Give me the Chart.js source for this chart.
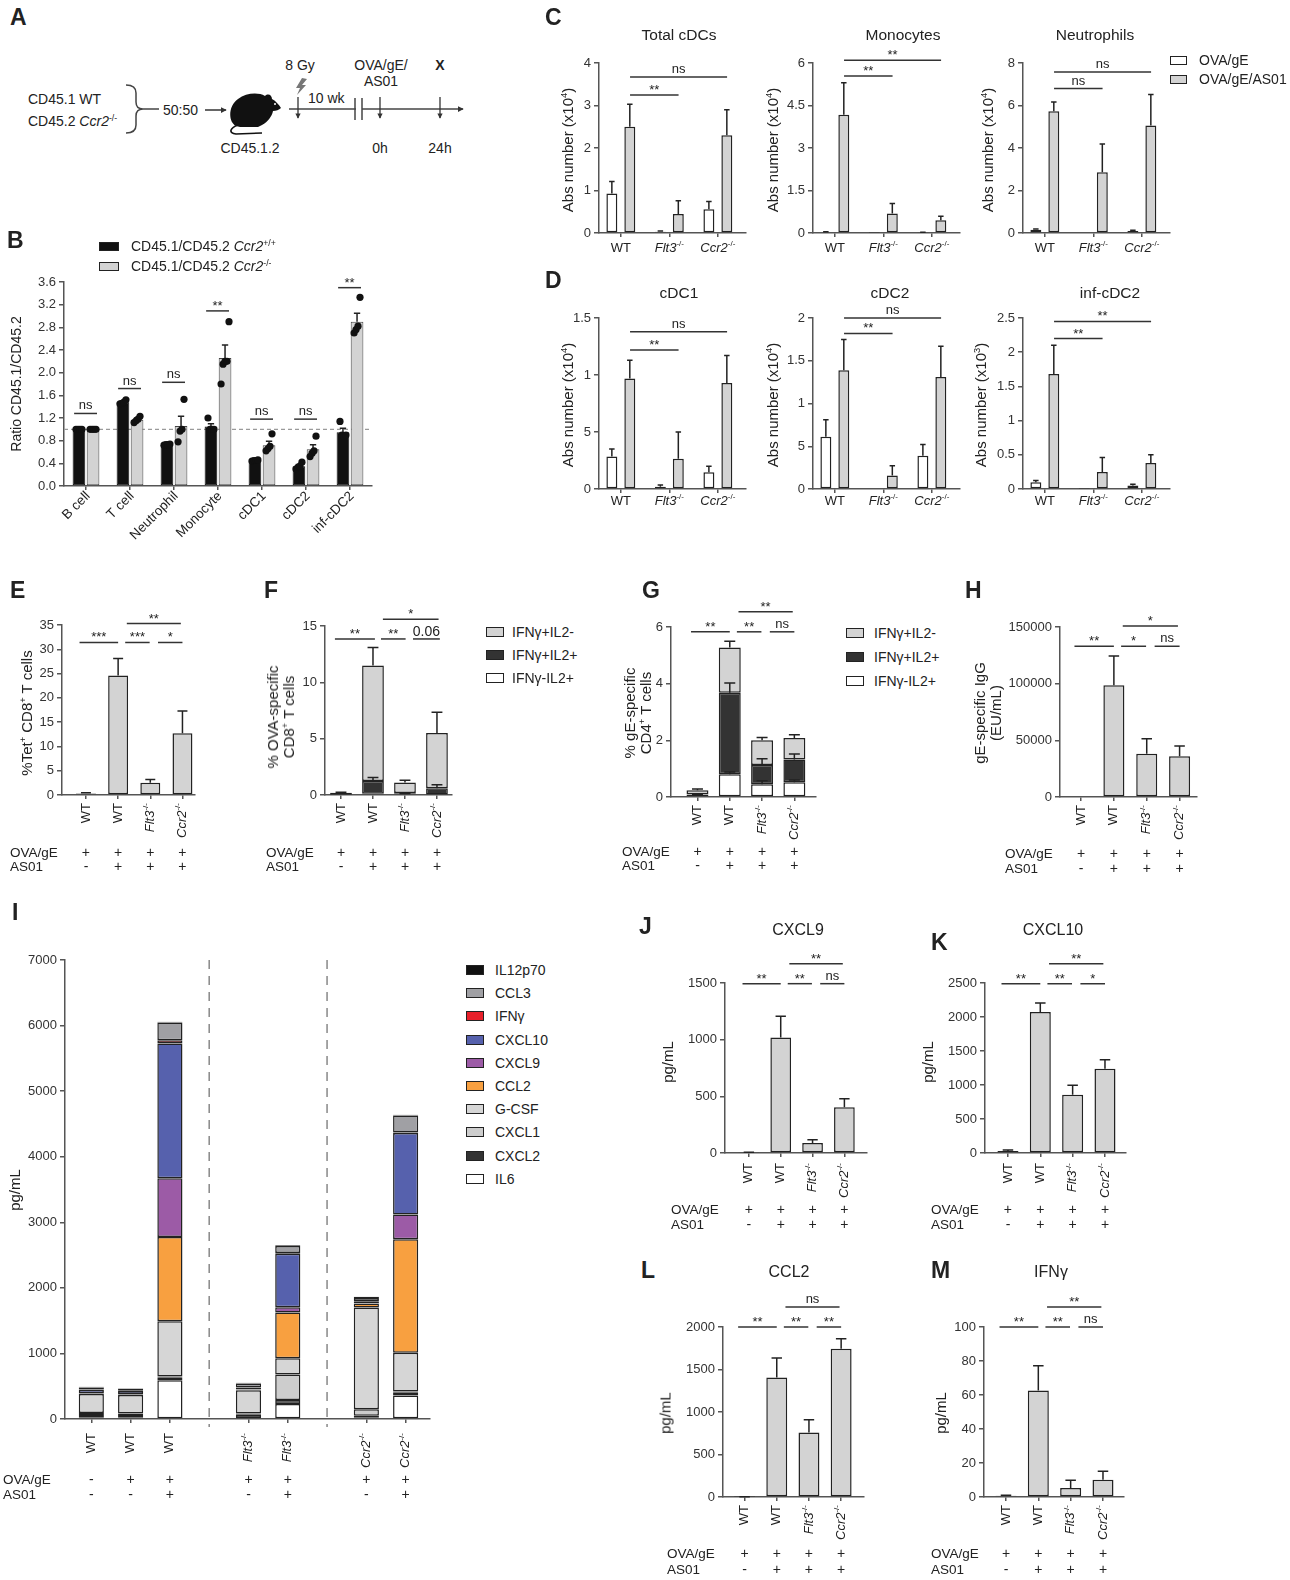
<!DOCTYPE html>
<html>
<head>
<meta charset="utf-8">
<title>Figure</title>
<script src="https://cdn.jsdelivr.net/npm/chart.js@4.4.1/dist/chart.umd.min.js"></script>
<style>
  html, body { margin: 0; padding: 0; background: #fff; }
  body { position: relative; width: 1290px; height: 1580px; overflow: hidden; font-family: "Liberation Sans", Arial, Helvetica, sans-serif; color: #222; }
  canvas { position: absolute; }
  .tx { position: absolute; white-space: nowrap; line-height: 1; z-index: 2; }
  .tx sup { font-size: 0.62em; position: relative; top: -0.6em; vertical-align: baseline; line-height: 0; }
  .two { line-height: 16px; text-align: center; }
  .box { position: absolute; box-sizing: border-box; border: 1.5px solid #222; z-index: 2; }
  .let { font-weight: bold; }
</style>
</head>
<body>
<svg width="480" height="170" style="position:absolute;left:0;top:0" xmlns="http://www.w3.org/2000/svg">
  <defs>
    <marker id="ah" markerWidth="4" markerHeight="4" refX="3.5" refY="2" orient="auto"><path d="M0,0 L4,2 L0,4 Z" fill="#333"/></marker>
  </defs>
  <path d="M126,85 Q136,85 136,93 L136,102 Q136,109 143,109 Q136,109 136,116 L136,125 Q136,133 126,133" fill="none" stroke="#444" stroke-width="1.5"/>
  <line x1="143" y1="109" x2="159" y2="109" stroke="#444" stroke-width="1.5"/>
  <line x1="205" y1="110" x2="226" y2="110" stroke="#333" stroke-width="1.5" marker-end="url(#ah)"/>
  <path d="M236,126 C228,122 228,106 238,99 C246,93 258,92 265,96 C268,93 272,95 272,99 C276,101 279,105 281,108 C279,110 276,111 273,111 C272,116 268,122 262,125 L258,127 L240,127 Z" fill="#111"/>
  <path d="M238,125 C230,128 228,133 236,134 L262,133" fill="none" stroke="#111" stroke-width="1.6"/>
  <circle cx="275" cy="104" r="1" fill="#fff"/>
  <line x1="289" y1="109" x2="463" y2="109" stroke="#444" stroke-width="1.5" marker-end="url(#ah)"/>
  <rect x="356" y="104" width="6" height="10" fill="#fff"/>
  <line x1="355" y1="98" x2="355" y2="120" stroke="#444" stroke-width="1.5"/>
  <line x1="362" y1="98" x2="362" y2="120" stroke="#444" stroke-width="1.5"/>
  <line x1="298" y1="97" x2="298" y2="118" stroke="#333" stroke-width="1.3" marker-end="url(#ah)"/>
  <line x1="380" y1="97" x2="380" y2="118" stroke="#333" stroke-width="1.3" marker-end="url(#ah)"/>
  <line x1="440" y1="97" x2="440" y2="118" stroke="#333" stroke-width="1.3" marker-end="url(#ah)"/>
  <polygon points="302,78 307,79 302,85 306,85 297,95 300,88 296,88" fill="#777"/>
</svg>
<script>
// ---------- Data ----------
// B: chimera ratio
const cellsB = ['B cell', 'T cell', 'Neutrophil', 'Monocyte', 'cDC1', 'cDC2', 'inf-cDC2'];
const wtRatioB = [1.0, 1.48, 0.73, 1.05, 0.45, 0.35, 0.95];
const wtRatioErrB = [0, 0.02, 0.01, 0.05, 0.01, 0.03, 0.07];
const koRatioB = [1.0, 1.17, 1.06, 2.26, 0.72, 0.65, 2.9];
const koRatioErrB = [0, 0.03, 0.17, 0.23, 0.07, 0.08, 0.15];
const wtDotsB = [[1, 1, 1, 1], [1.45, 1.46, 1.48, 1.52], [0.72, 0.73, 0.73, 0.74], [1.2, 1.0, 1.0, 1.0], [0.44, 0.45, 0.45, 0.46], [0.3, 0.33, 0.35, 0.42], [1.14, 0.9, 0.88, 0.9]];
const koDotsB = [[1, 1, 1, 1], [1.12, 1.15, 1.18, 1.23], [0.78, 0.97, 1.0, 1.53], [1.8, 2.15, 2.2, 2.2, 2.9], [0.62, 0.66, 0.7, 0.92], [0.52, 0.58, 0.62, 0.88], [2.7, 2.76, 2.82, 3.33]];
const ticksB = [0, 0.4, 0.8, 1.2, 1.6, 2.0, 2.4, 2.8, 3.2, 3.6];
const sigB = ['ns', 'ns', 'ns', '**', 'ns', 'ns', '**'];
const sigLevelB = [1.28, 1.72, 1.83, 3.09, 1.18, 1.18, 3.5];

// C / D: absolute numbers
const groupsCD = ['WT', '_Flt3_^-/-^', '_Ccr2_^-/-^'];
const cdcNoAdj = [0.93, 0.03, 0.56], cdcNoAdjErr = [0.28, 0.02, 0.18];
const cdcAs01 = [2.5, 0.45, 2.3], cdcAs01Err = [0.53, 0.31, 0.6];
const monoNoAdj = [0.03, 0.01, 0.02], monoNoAdjErr = [0.01, 0, 0.01];
const monoAs01 = [4.17, 0.69, 0.45], monoAs01Err = [1.13, 0.35, 0.14];
const neutNoAdj = [0.15, 0.03, 0.1], neutNoAdjErr = [0.04, 0, 0.03];
const neutAs01 = [5.73, 2.86, 5.06], neutAs01Err = [0.44, 1.33, 1.46];
const cdc1NoAdj = [0.285, 0.02, 0.147], cdc1NoAdjErr = [0.065, 0.015, 0.053];
const cdc1As01 = [0.97, 0.265, 0.93], cdc1As01Err = [0.16, 0.235, 0.24];
const cdc2NoAdj = [0.61, 0.01, 0.39], cdc2NoAdjErr = [0.2, 0, 0.13];
const cdc2As01 = [1.39, 0.157, 1.31], cdc2As01Err = [0.36, 0.115, 0.36];
const infNoAdj = [0.1, 0.005, 0.05], infNoAdjErr = [0.025, 0, 0.02];
const infAs01 = [1.68, 0.25, 0.38], infAs01Err = [0.42, 0.21, 0.12];
const ticksC1 = [0, 1, 2, 3, 4], ticksC2 = [0, 1.5, 3, 4.5, 6], ticksC3 = [0, 2, 4, 6, 8];
const ticksD1 = [0, 0.5, 1, 1.5], tickTextD1 = ['0', '5', '1', '1.5'];
const ticksD2 = [0, 0.5, 1, 1.5, 2], tickTextD2 = ['0', '5', '1', '1.5', '2'];
const ticksD3 = [0, 0.5, 1, 1.5, 2, 2.5];

// E - H, J - M: four groups
const groupsEM = ['WT', 'WT', '_Flt3_^-/-^', '_Ccr2_^-/-^'];
const ovaRow = ['+', '+', '+', '+'];
const as01Row = ['-', '+', '+', '+'];
const tetE = [0.3, 24.6, 2.5, 12.7], tetErrE = [0.15, 3.5, 0.7, 4.6];
const ticksE = [0, 5, 10, 15, 20, 25, 30, 35];
const f_negPos = [0.03, 0.1, 0.12, 0.05], f_negPosErr = [0, 0, 0.02, 0];
const f_posPos = [0.02, 1.15, 0.05, 0.55], f_posPosErr = [0, 0.3, 0.02, 0.3];
const f_posNeg = [0.15, 10.25, 0.93, 4.9], f_posNegErr = [0.05, 1.6, 0.2, 1.85];
const ticksF = [0, 5, 10, 15];
const g_negPos = [0.08, 0.8, 0.45, 0.52], g_negPosErr = [0.02, 0.08, 0.12, 0.08];
const g_posPos = [0.02, 2.88, 0.68, 0.8], g_posPosErr = [0, 0.34, 0.22, 0.2];
const g_posNeg = [0.14, 1.6, 0.87, 0.76], g_posNegErr = [0.04, 0.22, 0.1, 0.12];
const ticksG = [0, 2, 4, 6];
const igG = [0, 98500, 38200, 35900], igGErr = [0, 26000, 13300, 9100];
const ticksH = [0, 50000, 100000, 150000];
const cxcl9J = [5, 1020, 88, 404], cxcl9ErrJ = [2, 187, 29, 74];
const ticksJ = [0, 500, 1000, 1500];
const cxcl10K = [30, 2073, 857, 1240], cxcl10ErrK = [15, 132, 138, 132];
const ticksK = [0, 500, 1000, 1500, 2000, 2500];
const ccl2L = [3, 1407, 760, 1744], ccl2ErrL = [1, 228, 150, 118];
const ticksL = [0, 500, 1000, 1500, 2000];
const ifngM = [0.8, 62.7, 5.3, 10.2], ifngErrM = [0.2, 14.5, 4.5, 4.9];
const ticksM = [0, 20, 40, 60, 80, 100];

// I: cytokine stack (bottom to top)
const groupsI = ['WT', 'WT', 'WT', '_Flt3_^-/-^', '_Flt3_^-/-^', '_Ccr2_^-/-^', '_Ccr2_^-/-^'];
const slotsI = [0, 1, 2, 4, 5, 7, 8];
const ovaRowI = ['-', '+', '+', '+', '+', '+', '+'];
const as01RowI = ['-', '-', '+', '-', '+', '-', '+'];
const il6    = [20, 20, 590, 15, 230, 20, 360];
const cxcl2  = [40, 40, 40, 50, 60, 30, 40];
const cxcl1  = [30, 25, 20, 20, 390, 100, 20];
const gcsf   = [290, 280, 840, 355, 245, 1550, 590];
const ccl2   = [10, 10, 1285, 5, 700, 60, 1730];
const cxcl9  = [5, 5, 895, 5, 80, 5, 380];
const cxcl10 = [55, 50, 2055, 30, 815, 30, 1240];
const ifng   = [1, 1, 50, 1, 10, 1, 10];
const ccl3   = [30, 25, 270, 60, 110, 50, 260];
const il12   = [10, 10, 15, 10, 10, 20, 10];
const ticksI = [0, 1000, 2000, 3000, 4000, 5000, 6000, 7000];

// ---------- Helpers ----------
const FONT = '"Liberation Sans", Arial, Helvetica, sans-serif';
const AXIS = '#555';
const INK = '#222';
const LIGHT = '#d3d3d3';
const DARK = '#333';

// "_x_" italic, "^x^" superscript
function parseRich(s) {
  const parts = [];
  let it = false, sup = false, buf = '';
  for (const ch of s) {
    if (ch === '_' || ch === '^') {
      if (buf) parts.push({ t: buf, it, sup });
      buf = '';
      if (ch === '_') it = !it; else sup = !sup;
    } else buf += ch;
  }
  if (buf) parts.push({ t: buf, it, sup });
  return parts;
}

function drawRich(ctx, str, x, y, size, align, rot) {
  const parts = parseRich(str);
  const fontOf = p => `${p.it ? 'italic ' : ''}${p.sup ? Math.round(size * 0.62) : size}px ${FONT}`;
  let w = 0;
  parts.forEach(p => { ctx.font = fontOf(p); p.w = ctx.measureText(p.t).width; w += p.w; });
  ctx.save();
  ctx.translate(x, y);
  if (rot) ctx.rotate(rot);
  ctx.textBaseline = 'middle';
  ctx.textAlign = 'left';
  let cx = align === 'right' ? -w : align === 'left' ? 0 : -w / 2;
  parts.forEach(p => {
    ctx.font = fontOf(p);
    ctx.fillText(p.t, cx, p.sup ? -size * 0.33 : 0);
    cx += p.w;
  });
  ctx.restore();
}

function addChart(cfg) {
  const [x0, y0, x1, y1] = cfg.box;
  const yW = 56, padL = 6, padR = cfg.padR || 14, padT = cfg.padT || 64, padB = cfg.padB || 96, xH = 6;
  const left = x0 - yW - padL, top = y0 - padT;
  const W = Math.round(x1 - left + padR), H = Math.round(y1 - top + xH + padB);
  const cv = document.createElement('canvas');
  cv.width = W; cv.height = H;
  cv.style.left = left + 'px'; cv.style.top = top + 'px';
  cv.style.width = W + 'px'; cv.style.height = H + 'px';
  document.body.appendChild(cv);

  const datasets = cfg.series.map(s => ({
    type: 'bar',
    label: s.name,
    data: s.values.map((v, i) => ({ x: cfg.xs[i], y: v })),
    backgroundColor: s.color,
    borderColor: s.line || INK,
    borderWidth: s.bw ?? 1.5,
    borderSkipped: false,
    categoryPercentage: cfg.catPct ?? 1,
    barPercentage: cfg.barPct ?? 0.65,
    order: 2,
    errs: s.errs
  }));
  (cfg.dots || []).forEach(pts => datasets.push({
    type: 'scatter', data: pts, pointRadius: 3.6, pointBackgroundColor: '#111',
    pointBorderWidth: 0, order: 1
  }));

  const fig = {
    id: 'fig',
    beforeDatasetsDraw(chart) {
      const { ctx, chartArea: a, scales: { x, y } } = chart;
      ctx.save();
      if (cfg.refLine != null) {
        ctx.strokeStyle = '#9a9a9a'; ctx.lineWidth = 1.2; ctx.setLineDash([4, 3]);
        const py = y.getPixelForValue(cfg.refLine);
        ctx.beginPath(); ctx.moveTo(a.left, py); ctx.lineTo(a.right, py); ctx.stroke();
      }
      if (cfg.dividers) {
        ctx.strokeStyle = '#888'; ctx.lineWidth = 1.5; ctx.setLineDash([9, 7]);
        cfg.dividers.forEach(v => {
          const px = x.getPixelForValue(v);
          ctx.beginPath(); ctx.moveTo(px, a.top); ctx.lineTo(px, a.bottom + 8); ctx.stroke();
        });
      }
      ctx.restore();
    },
    afterDatasetDraw(chart, args) {
      const ds = chart.data.datasets[args.index];
      if (!ds.errs) return;
      const { ctx, scales: { y } } = chart;
      ctx.save();
      ctx.strokeStyle = INK; ctx.lineWidth = 1.5; ctx.setLineDash([]);
      args.meta.data.forEach((el, i) => {
        const e = ds.errs[i];
        if (!e) return;
        const tip = el.y - (y.getPixelForValue(0) - y.getPixelForValue(e));
        const half = el.width * 0.25;
        ctx.beginPath();
        ctx.moveTo(el.x, el.y); ctx.lineTo(el.x, tip);
        ctx.moveTo(el.x - half, tip); ctx.lineTo(el.x + half, tip);
        ctx.stroke();
      });
      ctx.restore();
    },
    afterDraw(chart) {
      const { ctx, scales: { x, y } } = chart;
      ctx.save();
      ctx.fillStyle = INK;
      // group labels under the axis
      cfg.labels.forEach((lab, i) => {
        const px = x.getPixelForValue(cfg.xs[i]);
        const py = cfg.labelY - top;
        if (cfg.labelMode === 'flat') drawRich(ctx, lab, px, py, 13, 'center', 0);
        else if (cfg.labelMode === 'diag') drawRich(ctx, lab, px + 2, py, 13.5, 'right', -Math.PI / 4);
        else drawRich(ctx, lab, px, py, 13, 'right', -Math.PI / 2);
      });
      // treatment rows
      (cfg.signs || []).forEach((row, r) => {
        const py = cfg.signY[r] - top;
        row.forEach((s, i) => drawRich(ctx, s, x.getPixelForValue(cfg.xs[i]), py, 14, 'center', 0));
      });
      // significance lines
      ctx.strokeStyle = '#333'; ctx.lineWidth = 1.5;
      (cfg.brackets || []).forEach(b => {
        const xa = x.getPixelForValue(b.a), xb = x.getPixelForValue(b.b), py = y.getPixelForValue(b.y);
        ctx.beginPath(); ctx.moveTo(xa, py); ctx.lineTo(xb, py); ctx.stroke();
        const star = /^\*+$/.test(b.t);
        ctx.font = `${b.t === '0.06' ? 14 : 13}px ${FONT}`;
        ctx.textAlign = 'center'; ctx.textBaseline = 'alphabetic';
        ctx.fillText(b.t, (xa + xb) / 2, py - (star ? 1 : b.t === 'ns' ? 4 : 2.5));
      });
      ctx.restore();
    }
  };

  return new Chart(cv, {
    type: 'bar',
    data: { datasets },
    options: {
      responsive: false,
      animation: false,
      events: [],
      layout: { autoPadding: false, padding: { left: padL, right: padR, top: padT, bottom: padB } },
      plugins: { legend: { display: false }, tooltip: { enabled: false } },
      scales: {
        x: {
          type: 'linear', min: cfg.xMin, max: cfg.xMax, offset: false, stacked: !!cfg.stacked,
          afterBuildTicks: s => { s.ticks = cfg.xs.map(v => ({ value: v })); },
          afterFit: s => { s.height = xH; },
          ticks: { display: false },
          grid: { offset: false, drawOnChartArea: false, drawTicks: true, tickLength: 4, color: AXIS, lineWidth: 1.5 },
          border: { display: true, color: AXIS, width: 1.5 }
        },
        y: {
          type: 'linear', min: 0, max: cfg.yTicks[cfg.yTicks.length - 1], stacked: !!cfg.stacked,
          afterBuildTicks: s => { s.ticks = cfg.yTicks.map(v => ({ value: v })); },
          afterFit: s => { s.width = yW; },
          ticks: {
            font: { family: FONT, size: 13 }, color: '#333', padding: 3,
            callback: (v, i) => cfg.yText ? cfg.yText[i] : String(v)
          },
          grid: { drawOnChartArea: false, tickLength: 5, color: AXIS, lineWidth: 1.5 },
          border: { display: true, color: AXIS, width: 1.5 }
        }
      }
    },
    plugins: [fig]
  });
}

function put(html, x, y, o = {}) {
  const d = document.createElement('div');
  d.className = 'tx' + (o.cls ? ' ' + o.cls : '');
  d.innerHTML = html;
  d.style.left = x + 'px';
  d.style.top = y + 'px';
  d.style.fontSize = (o.size || 14) + 'px';
  const tx = o.align === 'center' || o.rot ? '-50%' : o.align === 'right' ? '-100%' : '0';
  d.style.transform = `translate(${tx},-50%)` + (o.rot ? ' rotate(-90deg)' : '');
  document.body.appendChild(d);
}

function swatch(x, y, w, h, color) {
  const d = document.createElement('div');
  d.className = 'box';
  d.style.cssText += `left:${x}px;top:${y}px;width:${w}px;height:${h}px;background:${color};`;
  document.body.appendChild(d);
}

// ---------- Charts ----------
const idx3 = [0, 1, 2];
const idx4 = [0, 1, 2, 3];

// B
addChart({
  box: [64, 282, 372, 486], xMin: -0.5, xMax: 6.5,
  xs: cellsB.map((_, i) => i), labels: cellsB, labelMode: 'diag', labelY: 494,
  yTicks: ticksB, yText: ticksB.map(v => v.toFixed(1)),
  catPct: 0.64, barPct: 0.9,
  series: [
    { name: 'CD45.1/CD45.2 Ccr2+/+', values: wtRatioB, errs: wtRatioErrB, color: '#111', line: '#111', bw: 1 },
    { name: 'CD45.1/CD45.2 Ccr2-/-', values: koRatioB, errs: koRatioErrB, color: LIGHT, line: '#444', bw: 1 }
  ],
  dots: [wtDotsB, koDotsB].map((grp, g) => grp.flatMap((vals, i) =>
    vals.map((v, k) => ({ x: i + (g ? 0.16 : -0.16) + (k - (vals.length - 1) / 2) * 0.045, y: v })))),
  refLine: 1,
  brackets: sigB.map((t, i) => ({ a: i - 0.27, b: i + 0.25, y: sigLevelB[i], t })),
  padB: 80
});

// C and D
function pairChart(box, yTicks, yText, white, whiteErr, gray, grayErr, brackets, labelY) {
  addChart({
    box, xMin: -0.45, xMax: 2.58, xs: idx3, labels: groupsCD, labelMode: 'flat', labelY,
    yTicks, yText, catPct: 0.74, barPct: 0.61,
    series: [
      { name: 'OVA/gE', values: white, errs: whiteErr, color: '#fff' },
      { name: 'OVA/gE/AS01', values: gray, errs: grayErr, color: LIGHT }
    ],
    brackets, padB: 40
  });
}
pairChart([599, 63, 746, 233], ticksC1, null, cdcNoAdj, cdcNoAdjErr, cdcAs01, cdcAs01Err,
  [{ a: 0.19, b: 1.19, y: 3.25, t: '**' }, { a: 0.19, b: 2.19, y: 3.67, t: 'ns' }], 248);
pairChart([813, 63, 960, 233], ticksC2, null, monoNoAdj, monoNoAdjErr, monoAs01, monoAs01Err,
  [{ a: 0.19, b: 1.19, y: 5.54, t: '**' }, { a: 0.19, b: 2.19, y: 6.1, t: '**' }], 248);
pairChart([1023, 63, 1170, 233], ticksC3, null, neutNoAdj, neutNoAdjErr, neutAs01, neutAs01Err,
  [{ a: 0.19, b: 1.19, y: 6.8, t: 'ns' }, { a: 0.19, b: 2.19, y: 7.58, t: 'ns' }], 248);
pairChart([599, 318, 746, 489], ticksD1, tickTextD1, cdc1NoAdj, cdc1NoAdjErr, cdc1As01, cdc1As01Err,
  [{ a: 0.19, b: 1.19, y: 1.22, t: '**' }, { a: 0.19, b: 2.19, y: 1.38, t: 'ns' }], 501);
pairChart([813, 318, 960, 489], ticksD2, tickTextD2, cdc2NoAdj, cdc2NoAdjErr, cdc2As01, cdc2As01Err,
  [{ a: 0.19, b: 1.19, y: 1.82, t: '**' }, { a: 0.19, b: 2.19, y: 2.0, t: 'ns' }], 501);
pairChart([1023, 318, 1170, 489], ticksD3, null, infNoAdj, infNoAdjErr, infAs01, infAs01Err,
  [{ a: 0.19, b: 1.19, y: 2.2, t: '**' }, { a: 0.19, b: 2.19, y: 2.45, t: '**' }], 501);

// single-series four-group charts
function fourChart(o) {
  addChart(Object.assign({
    xs: idx4, labels: groupsEM, labelMode: 'rot', signs: [ovaRow, as01Row], barPct: 0.65
  }, o));
}
function sig4(y1, y2, t) {
  return [
    { a: -0.2, b: 1.0, y: y1, t: t[0] }, { a: 1.22, b: 1.98, y: y1, t: t[1] },
    { a: 2.24, b: 3.0, y: y1, t: t[2] }, { a: 1.27, b: 2.95, y: y2, t: t[3] }
  ];
}

fourChart({
  box: [62, 625, 195, 795], xMin: -0.745, xMax: 3.39, labelY: 803, signY: [853, 867],
  yTicks: ticksE, barPct: 0.62,
  series: [{ name: '%Tet+', values: tetE, errs: tetErrE, color: LIGHT }],
  brackets: sig4(31.4, 35.3, ['***', '***', '*', '**'])
});
fourChart({
  box: [325, 626, 452, 795], xMin: -0.5, xMax: 3.47, labelY: 803, signY: [853, 867],
  yTicks: ticksF, stacked: true, barPct: 0.68,
  series: [
    { name: 'IFNγ-IL2+', values: f_negPos, errs: f_negPosErr, color: '#fff' },
    { name: 'IFNγ+IL2+', values: f_posPos, errs: f_posPosErr, color: DARK },
    { name: 'IFNγ+IL2-', values: f_posNeg, errs: f_posNegErr, color: LIGHT }
  ],
  brackets: [
    { a: -0.19, b: 1.06, y: 13.85, t: '**' }, { a: 1.25, b: 2.02, y: 13.85, t: '**' },
    { a: 2.25, b: 3.09, y: 13.85, t: '0.06' }, { a: 1.31, b: 3.05, y: 15.6, t: '*' }
  ]
});
fourChart({
  box: [671, 627, 816, 797], xMin: -0.82, xMax: 3.67, labelY: 805, signY: [852, 866],
  yTicks: ticksG, stacked: true, barPct: 0.68,
  series: [
    { name: 'IFNγ-IL2+', values: g_negPos, errs: g_negPosErr, color: '#fff' },
    { name: 'IFNγ+IL2+', values: g_posPos, errs: g_posPosErr, color: DARK },
    { name: 'IFNγ+IL2-', values: g_posNeg, errs: g_posNegErr, color: LIGHT }
  ],
  brackets: sig4(5.83, 6.54, ['**', '**', 'ns', '**'])
});
fourChart({
  box: [1060, 627, 1197, 797], xMin: -0.64, xMax: 3.53, labelY: 805, signY: [854, 869],
  yTicks: ticksH, barPct: 0.64,
  series: [{ name: 'gE-specific IgG', values: igG, errs: igGErr, color: LIGHT }],
  brackets: sig4(133000, 150800, ['**', '*', 'ns', '*'])
});
fourChart({
  box: [725, 983, 867, 1153], xMin: -0.75, xMax: 3.71, labelY: 1163, signY: [1210, 1225],
  yTicks: ticksJ,
  series: [{ name: 'CXCL9', values: cxcl9J, errs: cxcl9ErrJ, color: LIGHT }],
  brackets: sig4(1494, 1670, ['**', '**', 'ns', '**'])
});
fourChart({
  box: [985, 983, 1126, 1153], xMin: -0.71, xMax: 3.65, labelY: 1163, signY: [1210, 1225],
  yTicks: ticksK,
  series: [{ name: 'CXCL10', values: cxcl10K, errs: cxcl10ErrK, color: LIGHT }],
  brackets: sig4(2489, 2783, ['**', '**', '*', '**'])
});
fourChart({
  box: [723, 1327, 864, 1497], xMin: -0.67, xMax: 3.71, labelY: 1505, signY: [1554, 1570],
  yTicks: ticksL,
  series: [{ name: 'CCL2', values: ccl2L, errs: ccl2ErrL, color: LIGHT }],
  brackets: sig4(2000, 2234, ['**', '**', '**', 'ns'])
});
fourChart({
  box: [984, 1327, 1124, 1497], xMin: -0.68, xMax: 3.65, labelY: 1505, signY: [1554, 1570],
  yTicks: ticksM,
  series: [{ name: 'IFNγ', values: ifngM, errs: ifngErrM, color: LIGHT }],
  brackets: sig4(100, 111.7, ['**', '**', 'ns', '**'])
});

// I
const seriesI = [
  { name: 'IL6', values: il6, color: '#ffffff' },
  { name: 'CXCL2', values: cxcl2, color: '#333333' },
  { name: 'CXCL1', values: cxcl1, color: '#cdcdcd' },
  { name: 'G-CSF', values: gcsf, color: '#d6d6d6' },
  { name: 'CCL2', values: ccl2, color: '#f8a040' },
  { name: 'CXCL9', values: cxcl9, color: '#9c5ba6' },
  { name: 'CXCL10', values: cxcl10, color: '#5661ad' },
  { name: 'IFNγ', values: ifng, color: '#e8202a' },
  { name: 'CCL3', values: ccl3, color: '#a0a0a4' },
  { name: 'IL12p70', values: il12, color: '#111111' }
];
addChart({
  box: [65, 960, 430, 1419], xMin: -0.67, xMax: 8.62, xs: slotsI, labels: groupsI,
  labelMode: 'rot', labelY: 1433, signs: [ovaRowI, as01RowI], signY: [1480, 1495],
  yTicks: ticksI, stacked: true, barPct: 0.64, dividers: [3, 6],
  series: seriesI
});

// ---------- Text ----------
const LET = { cls: 'let', size: 23 };
// A
put('A', 10, 16.5, LET);
put('CD45.1 WT', 28, 99);
put('CD45.2 <i>Ccr2</i><sup>-/-</sup>', 28, 121);
put('50:50', 163, 110);
put('CD45.1.2', 250, 148, { align: 'center' });
put('8 Gy', 300, 65, { align: 'center' });
put('10 wk', 308, 98);
put('OVA/gE/', 381, 65, { align: 'center' });
put('AS01', 381, 81, { align: 'center' });
put('<b>X</b>', 440, 65, { align: 'center' });
put('0h', 380, 148, { align: 'center' });
put('24h', 440, 148, { align: 'center' });

// B
put('B', 7, 240, LET);
swatch(99, 241.5, 20, 9, '#111');
swatch(99, 261.5, 20, 9, LIGHT);
put('CD45.1/CD45.2 <i>Ccr2</i><sup>+/+</sup>', 131, 246);
put('CD45.1/CD45.2 <i>Ccr2</i><sup>-/-</sup>', 131, 266);
put('Ratio CD45.1/CD45.2', 16, 384, { rot: true });

// C, D
put('C', 545, 16.5, LET);
put('D', 545, 279.5, LET);
[['Total cDCs', 679, 35], ['Monocytes', 903, 35], ['Neutrophils', 1095, 35],
 ['cDC1', 679, 293], ['cDC2', 890, 293], ['inf-cDC2', 1110, 293]]
  .forEach(([t, x, y]) => put(t, x, y, { align: 'center', size: 15.5 }));
[[567, 150, 4], [772, 150, 4], [987, 150, 4], [567, 405, 4], [772, 405, 4], [980, 405, 3]]
  .forEach(([x, y, e]) => put(`Abs number (x10<sup>${e}</sup>)`, x, y, { rot: true, size: 15 }));
swatch(1170, 55.5, 17, 9, '#fff');
swatch(1170, 74.5, 17, 9, LIGHT);
put('OVA/gE', 1199, 60);
put('OVA/gE/AS01', 1199, 79);

// E - H
put('E', 10, 590, LET);
put('F', 264, 590, LET);
put('G', 642, 590, LET);
put('H', 965, 590, LET);
put('%Tet<sup>+</sup> CD8<sup>+</sup> T cells', 26, 713, { rot: true, size: 15 });
put('<div class="two">% OVA-specific<br>CD8<sup>+</sup> T cells</div>', 281, 717, { rot: true, size: 15 });
put('<div class="two">% gE-specific<br>CD4<sup>+</sup> T cells</div>', 638, 713, { rot: true, size: 15 });
put('<div class="two">gE-specific IgG<br>(EU/mL)</div>', 988, 713, { rot: true, size: 15 });
const cytoLegend = [['IFNγ+IL2-', LIGHT], ['IFNγ+IL2+', DARK], ['IFNγ-IL2+', '#fff']];
cytoLegend.forEach(([t, c], k) => {
  swatch(486, 627 + 23 * k, 18, 10, c); put(t, 512, 632 + 23 * k);
  swatch(846, 628 + 24 * k, 18, 10, c); put(t, 874, 633 + 24 * k);
});
[[10, 853, 867], [266, 853, 867], [622, 852, 866], [1005, 854, 869],
 [3, 1480, 1495], [671, 1210, 1225], [931, 1210, 1225], [667, 1554, 1570], [931, 1554, 1570]]
  .forEach(([x, ya, yb]) => { put('OVA/gE', x, ya, { size: 13.5 }); put('AS01', x, yb, { size: 13.5 }); });

// I
put('I', 12, 912, LET);
put('pg/mL', 14, 1190, { rot: true, size: 15 });
seriesI.slice().reverse().forEach((s, k) => {
  swatch(466, 965 + 23.2 * k, 18, 10, s.color);
  put(s.name, 495, 970 + 23.2 * k);
});

// J - M
put('J', 639, 926, LET);
put('K', 931, 942, LET);
put('L', 641, 1270, LET);
put('M', 931, 1270, LET);
[['CXCL9', 798, 930], ['CXCL10', 1053, 930], ['CCL2', 789, 1272], ['IFNγ', 1051, 1272]]
  .forEach(([t, x, y]) => put(t, x, y, { align: 'center', size: 16 }));
[[667, 1062], [927, 1062], [665, 1413], [940, 1413]]
  .forEach(([x, y]) => put('pg/mL', x, y, { rot: true, size: 15 }));
</script>
</body>
</html>
